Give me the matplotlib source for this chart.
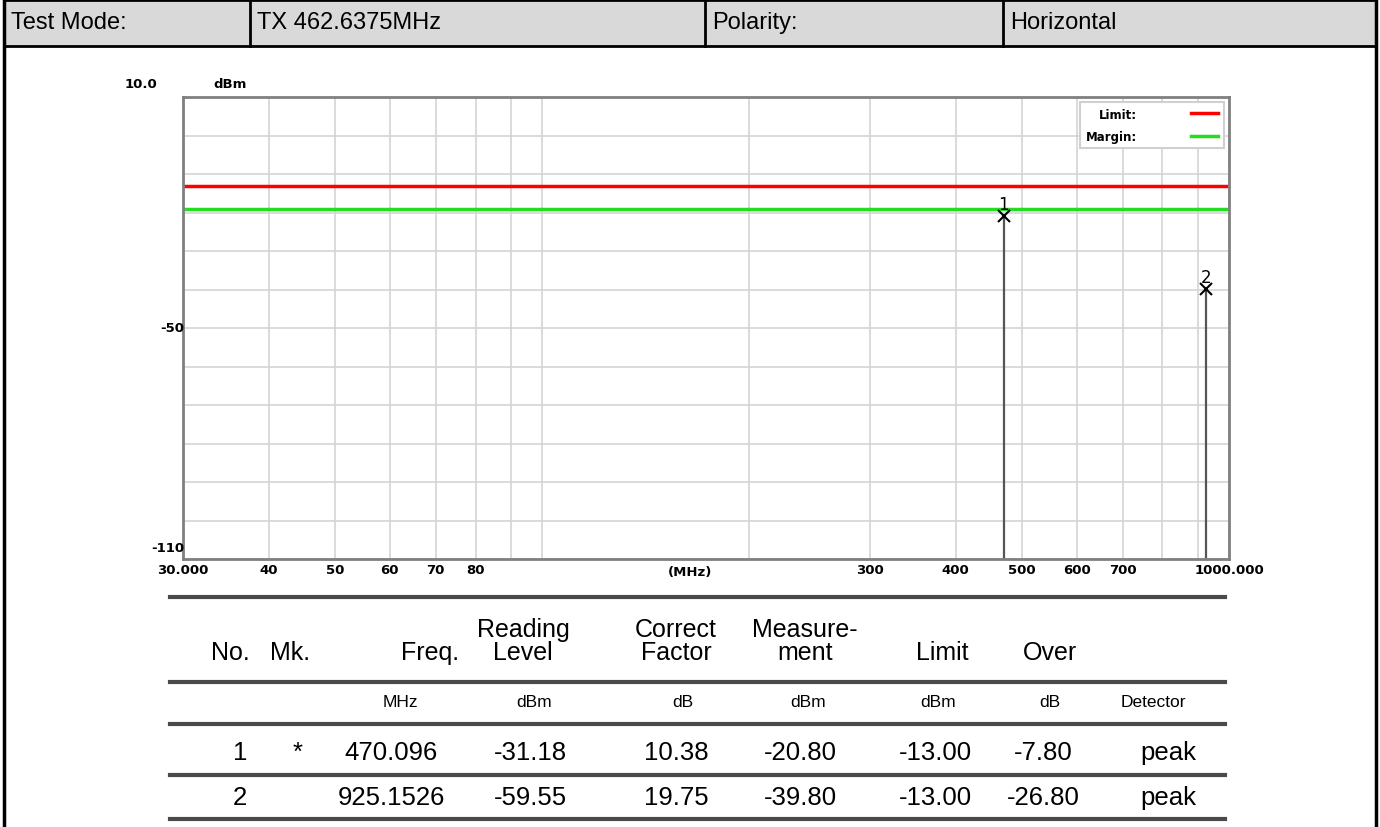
import matplotlib
matplotlib.use("Agg")
import matplotlib.pyplot as plt
from matplotlib.patches import Rectangle

# Header strip
header_cells = ["Test Mode:", "TX 462.6375MHz", "Polarity:", "Horizontal"]

# Spectrum plot data
limit_level = -13.0
margin_level = -19.0
marker_ids = ["1", "2"]
marker_freq = [470.096, 925.1526]
marker_level = [-20.80, -39.80]

x_ticks = [30, 40, 50, 60, 70, 80, 90, 100, 200, 300, 400, 500, 600, 700, 800, 900, 1000]
x_tick_labels = ["30.000", "40", "50", "60", "70", "80", "", "", "", "300", "400",
                 "500", "600", "700", "", "", "1000.000"]
y_ticks = list(range(-110, 11, 10))

# Result table
table_headers = ["No.", "Mk.", "Freq.", "Reading\nLevel", "Correct\nFactor",
                 "Measure-\nment", "Limit", "Over", ""]
table_units = ["", "", "MHz", "dBm", "dB", "dBm", "dBm", "dB", "Detector"]
row_no = ["1", "2"]
row_mk = ["*", ""]
row_freq = ["470.096", "925.1526"]
row_reading = ["-31.18", "-59.55"]
row_factor = ["10.38", "19.75"]
row_measure = ["-20.80", "-39.80"]
row_limit = ["-13.00", "-13.00"]
row_over = ["-7.80", "-26.80"]
row_detector = ["peak", "peak"]

W, H = 1380, 828
fig = plt.figure(figsize=(W / 100, H / 100), dpi=100)
plt.rcParams["font.family"] = ["Liberation Sans", "DejaVu Sans"]
axis_font = {"family": "DejaVu Sans", "weight": "bold", "size": 9.5}

# Pixel-space overlay for the report frame and table
bg = fig.add_axes([0, 0, 1, 1])
bg.set_xlim(0, W)
bg.set_ylim(H, 0)
bg.axis("off")

# 1) Header strip
bg.add_patch(Rectangle((4, 1), 1372, 46, facecolor="#d9d9d9", edgecolor="black", linewidth=2))
cell_x = [4, 250, 705, 1003]
for i, label in enumerate(header_cells):
    if i > 0:
        bg.plot([cell_x[i], cell_x[i]], [1, 47], color="black", lw=2)
    bg.text(cell_x[i] + 7, 23, label, fontsize=17, va="center", ha="left")
bg.plot([4, 4], [1, H], color="black", lw=2.5)
bg.plot([1376, 1376], [1, H], color="black", lw=2.5)

# 2) Spectrum plot
left, right, top, bottom = 183, 1229, 98, 560
ax = fig.add_axes([left / W, 1 - bottom / H, (right - left) / W, (bottom - top) / H])
ax.set_xscale("log")
ax.set_xlim(30, 1000)
ax.set_ylim(-110, 10)
ax.set_xticks(x_ticks)
ax.set_xticklabels(x_tick_labels, fontdict=axis_font)
ax.xaxis.set_minor_locator(matplotlib.ticker.NullLocator())
ax.set_yticks(y_ticks)
ax.set_yticklabels([])
ax.tick_params(length=0, pad=3)
ax.grid(True, color="#d4d4d4", linewidth=1.2)
for s in ax.spines.values():
    s.set_color("#808080")
    s.set_linewidth(2)

ax.axhline(limit_level, color="#ff0000", lw=2.5, label="Limit:")
ax.axhline(margin_level, color="#22dd22", lw=2.5, label="Margin:")
ax.vlines(marker_freq, -110, marker_level, color="#555555", lw=1.6)
ax.plot(marker_freq, marker_level, "x", color="black", ms=8, mew=1.5, linestyle="none")
for mid, f, lv in zip(marker_ids, marker_freq, marker_level):
    ax.annotate(mid, (f, lv), xytext=(0, 2), textcoords="offset points",
                ha="center", va="bottom", fontsize=12, family="DejaVu Sans")

ax.text(-0.04, 1.03, "10.0", transform=ax.transAxes, fontdict=axis_font,
        ha="center", va="center")
ax.text(0.045, 1.03, "dBm", transform=ax.transAxes, fontdict=axis_font,
        ha="center", va="center")
ax.text(0.001, -50, "-50", transform=ax.get_yaxis_transform(), fontdict=axis_font,
        ha="right", va="center")
ax.text(0.001, -107, "-110", transform=ax.get_yaxis_transform(), fontdict=axis_font,
        ha="right", va="center")
ax.text(0.485, -0.012, "(MHz)", transform=ax.transAxes, fontdict=axis_font,
        ha="center", va="top")

leg = ax.legend(loc="upper right", markerfirst=False, fancybox=False, framealpha=1,
                edgecolor="#d0d0d0", prop={"family": "DejaVu Sans", "size": 8.5, "weight": "bold"},
                handlelength=2.3, borderaxespad=0.45, labelspacing=0.8, handletextpad=4.6,
                borderpad=0.45)
leg.get_frame().set_linewidth(1.5)

# 3) Result table
tx0, tx1 = 170, 1225
for yl in [598, 683, 725, 776, 820]:
    bg.plot([tx0, tx1], [yl, yl], color="#4a4a4a", lw=3)
col_x = [230, 290, 430, 523, 676, 805, 942, 1050, 1165]
unit_x = [232, 290, 400, 534, 683, 808, 938, 1050, 1153]
val_x = [240, 298, 391, 530, 676, 800, 935, 1043, 1168]
for cx, txt in zip(col_x, table_headers):
    bg.text(cx, 665, txt, fontsize=18, ha="center", va="bottom", linespacing=0.95)
for cx, txt in zip(unit_x, table_units):
    bg.text(cx, 703, txt, fontsize=12.5, ha="center", va="center")
rows = [row_no, row_mk, row_freq, row_reading, row_factor, row_measure,
        row_limit, row_over, row_detector]
for r, yc in enumerate([753, 798]):
    for cx, col in zip(val_x, rows):
        bg.text(cx, yc, col[r], fontsize=18.5, ha="center", va="center")

fig.savefig("out.png", dpi=100)
